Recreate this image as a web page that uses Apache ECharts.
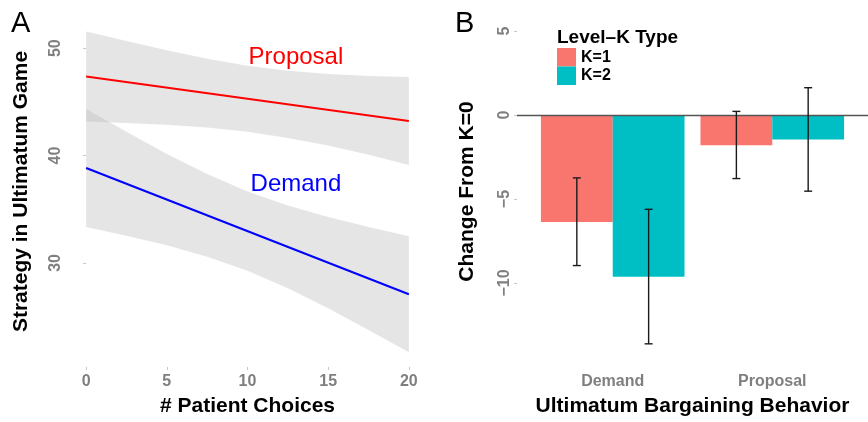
<!DOCTYPE html>
<html><head><meta charset="utf-8">
<script src="https://cdn.jsdelivr.net/npm/echarts@6/dist/echarts.min.js"></script>
<style>html,body{margin:0;padding:0;background:#fff}#c{width:868px;height:422px}</style>
</head><body><div id="c"></div>
<script>
// ---------- Panel A data ----------
const xTicks = [0, 5, 10, 15, 20];
const strategyTicks = [30, 40, 50];
const fitX = [0, 20];
const proposalFit = [47.36, 43.22];
const demandFit = [38.84, 27.08];
const bandX = [0, 2.5, 5, 7.5, 10, 12.5, 15, 17.5, 20];
const proposalLower = [43.16, 43.02, 42.86, 42.61, 42.21, 41.64, 40.93, 40.08, 39.12];
const proposalUpper = [51.56, 50.66, 49.8, 49.01, 48.37, 47.9, 47.59, 47.4, 47.32];
const demandLower = [33.34, 32.52, 31.65, 30.58, 29.26, 27.64, 25.77, 23.75, 21.68];
const demandUpper = [44.34, 42.22, 40.15, 38.28, 36.66, 35.34, 34.27, 33.35, 32.48];
const labelText = ['Proposal', 'Demand'];
const labelColor = ['#ff0000', '#0000ff'];
const labelX = [13, 13];
const labelY = [49.15, 37.33];

// ---------- Panel B data ----------
const categories = ['Demand', 'Proposal'];
const kTypes = ['K=1', 'K=2'];
const k1Mean = [-6.36, -1.79];
const k1Low = [-8.96, -3.78];
const k1High = [-3.74, 0.22];
const k2Mean = [-9.63, -1.46];
const k2Low = [-13.62, -4.53];
const k2High = [-5.61, 1.63];
const changeTicks = [-10, -5, 0, 5];

const FONT = "'Liberation Sans', Arial, Helvetica, sans-serif";
const BAND = 'rgba(190,190,190,0.4)';
const DODGE = 0.225;   // half of dodge width
const CAP = 0.025;

function bandRender(params, api) {
  if (params.dataIndexInside !== 0) return null;
  const n = params.dataInsideLength;
  const pts = [];
  for (let i = 0; i < n; i++) pts.push(api.coord([api.value(0, i), api.value(2, i)]));
  for (let i = n - 1; i >= 0; i--) pts.push(api.coord([api.value(0, i), api.value(1, i)]));
  return { type: 'polygon', shape: { points: pts }, style: { fill: BAND } };
}
function bandSeries(lower, upper) {
  return { type: 'custom', xAxisIndex: 0, yAxisIndex: 0, silent: true, z: 1,
    encode: { x: 0, y: [1, 2] }, renderItem: bandRender,
    data: bandX.map((x, i) => [x, lower[i], upper[i]]) };
}

function textRender(params, api) {
  const i = params.dataIndex;
  const p = api.coord([api.value(0), api.value(1)]);
  return { type: 'text', x: p[0], y: p[1],
    style: { text: labelText[i], fill: labelColor[i], fontSize: 24, fontFamily: FONT,
      align: 'center', verticalAlign: 'middle' } };
}

function barRender(side) {
  return function (params, api) {
    const cx = api.value(0), v = api.value(1);
    const x0 = side < 0 ? cx - 2 * DODGE : cx;
    const x1 = side < 0 ? cx : cx + 2 * DODGE;
    const p0 = api.coord([x0, 0]);
    const p1 = api.coord([x1, v]);
    return { type: 'rect',
      shape: { x: p0[0], y: Math.min(p0[1], p1[1]), width: p1[0] - p0[0], height: Math.abs(p1[1] - p0[1]) },
      style: { fill: api.visual('color') } };
  };
}

function errRender(params, api) {
  const x = api.value(0), lo = api.value(1), hi = api.value(2);
  const pLo = api.coord([x, lo]), pHi = api.coord([x, hi]);
  const cl = api.coord([x - CAP, lo])[0], cr = api.coord([x + CAP, lo])[0];
  const st = { stroke: '#1a1a1a', lineWidth: 1.4 };
  return { type: 'group', children: [
    { type: 'line', shape: { x1: pLo[0], y1: pLo[1], x2: pHi[0], y2: pHi[1] }, style: st },
    { type: 'line', shape: { x1: cl, y1: pLo[1], x2: cr, y2: pLo[1] }, style: st },
    { type: 'line', shape: { x1: cl, y1: pHi[1], x2: cr, y2: pHi[1] }, style: st }
  ] };
}

const tickStyle = { color: '#c8c8c8', width: 1 };
const tickLabel = { color: '#7f7f7f', fontWeight: 'bold', fontSize: 16, fontFamily: FONT };
const nameStyle = { color: '#000', fontWeight: 'bold', fontSize: 21, fontFamily: FONT };

const option = {
  animation: false,
  backgroundColor: '#fff',
  textStyle: { fontFamily: FONT },
  title: [
    { text: 'A', left: 11, top: 9, padding: 0, textStyle: { fontSize: 29, fontWeight: 'normal', color: '#000', fontFamily: FONT } },
    { text: 'B', left: 455, top: 9, padding: 0, textStyle: { fontSize: 29, fontWeight: 'normal', color: '#000', fontFamily: FONT } },
    { text: 'Level–K Type', left: 557, top: 28, padding: 0, textStyle: { fontSize: 19, fontWeight: 'bold', color: '#000', fontFamily: FONT } }
  ],
  legend: {
    data: kTypes.map(k => ({ name: k, icon: 'rect' })),
    orient: 'vertical', left: 557, top: 48, padding: 0,
    itemWidth: 19, itemHeight: 18.5, itemGap: 0,
    textStyle: { fontSize: 16, fontWeight: 'bold', color: '#000', fontFamily: FONT }
  },
  grid: [
    { left: 70, top: 16, width: 355, height: 354 },
    { left: 517, top: 16, width: 356, height: 354 }
  ],
  xAxis: [
    { type: 'value', gridIndex: 0, min: -1, max: 21,
      axisLine: { show: false }, splitLine: { show: false },
      axisTick: { show: true, customValues: xTicks, length: 3, lineStyle: tickStyle },
      axisLabel: Object.assign({ customValues: xTicks, margin: 7 }, tickLabel),
      name: '# Patient Choices', nameLocation: 'middle', nameGap: 29, nameTextStyle: nameStyle },
    { type: 'value', gridIndex: 1, min: 0.4, max: 2.6,
      axisLine: { show: false }, splitLine: { show: false },
      axisTick: { show: true, customValues: [1, 2], length: 3, lineStyle: tickStyle },
      axisLabel: Object.assign({ customValues: [1, 2], margin: 7, formatter: v => categories[Math.round(v) - 1] }, tickLabel),
      name: 'Ultimatum Bargaining Behavior', nameLocation: 'middle', nameGap: 29, nameTextStyle: nameStyle }
  ],
  yAxis: [
    { type: 'value', gridIndex: 0, min: 20.3, max: 53,
      axisLine: { show: false }, splitLine: { show: false },
      axisTick: { show: true, customValues: strategyTicks, length: 3, lineStyle: tickStyle },
      axisLabel: Object.assign({ customValues: strategyTicks, margin: 6, rotate: 90 }, tickLabel),
      name: 'Strategy in Ultimatum Game', nameLocation: 'middle', nameGap: 38, nameTextStyle: nameStyle },
    { type: 'value', gridIndex: 1, min: -15, max: 5.9,
      axisLine: { show: false }, splitLine: { show: false },
      axisTick: { show: true, customValues: changeTicks, length: 3, lineStyle: tickStyle },
      axisLabel: Object.assign({ customValues: changeTicks, margin: 4, rotate: 90, formatter: v => String(v).replace('-', '\u2212') }, tickLabel),
      name: 'Change From K=0', nameLocation: 'middle', nameGap: 39, nameTextStyle: nameStyle }
  ],
  series: [
    bandSeries(demandLower, demandUpper),
    bandSeries(proposalLower, proposalUpper),
    { type: 'line', xAxisIndex: 0, yAxisIndex: 0, symbol: 'none', silent: true, z: 3,
      data: fitX.map((x, i) => [x, proposalFit[i]]), lineStyle: { color: '#ff0000', width: 2 } },
    { type: 'line', xAxisIndex: 0, yAxisIndex: 0, symbol: 'none', silent: true, z: 3,
      data: fitX.map((x, i) => [x, demandFit[i]]), lineStyle: { color: '#0000ff', width: 2 } },
    { type: 'custom', xAxisIndex: 0, yAxisIndex: 0, silent: true, z: 4,
      encode: { x: 0, y: 1 }, renderItem: textRender,
      data: labelText.map((t, i) => [labelX[i], labelY[i]]) },
    { type: 'custom', name: kTypes[0], xAxisIndex: 1, yAxisIndex: 1,
      itemStyle: { color: '#F8766D' }, renderItem: barRender(-1),
      encode: { x: 0, y: 1 },
      data: categories.map((c, i) => [i + 1, k1Mean[i]]),
      markLine: { silent: true, symbol: 'none', label: { show: false },
        lineStyle: { color: '#555555', width: 1.3, type: 'solid' }, data: [{ yAxis: 0 }] } },
    { type: 'custom', name: kTypes[1], xAxisIndex: 1, yAxisIndex: 1,
      itemStyle: { color: '#00BFC4' }, renderItem: barRender(1),
      encode: { x: 0, y: 1 },
      data: categories.map((c, i) => [i + 1, k2Mean[i]]) },
    { type: 'custom', name: 'errK1', xAxisIndex: 1, yAxisIndex: 1, renderItem: errRender, z: 5,
      encode: { x: 0, y: [1, 2] },
      data: categories.map((c, i) => [i + 1 - DODGE, k1Low[i], k1High[i]]) },
    { type: 'custom', name: 'errK2', xAxisIndex: 1, yAxisIndex: 1, renderItem: errRender, z: 5,
      encode: { x: 0, y: [1, 2] },
      data: categories.map((c, i) => [i + 1 + DODGE, k2Low[i], k2High[i]]) }
  ]
};
const chart = echarts.init(document.getElementById('c'));
chart.setOption(option);
</script></body></html>
